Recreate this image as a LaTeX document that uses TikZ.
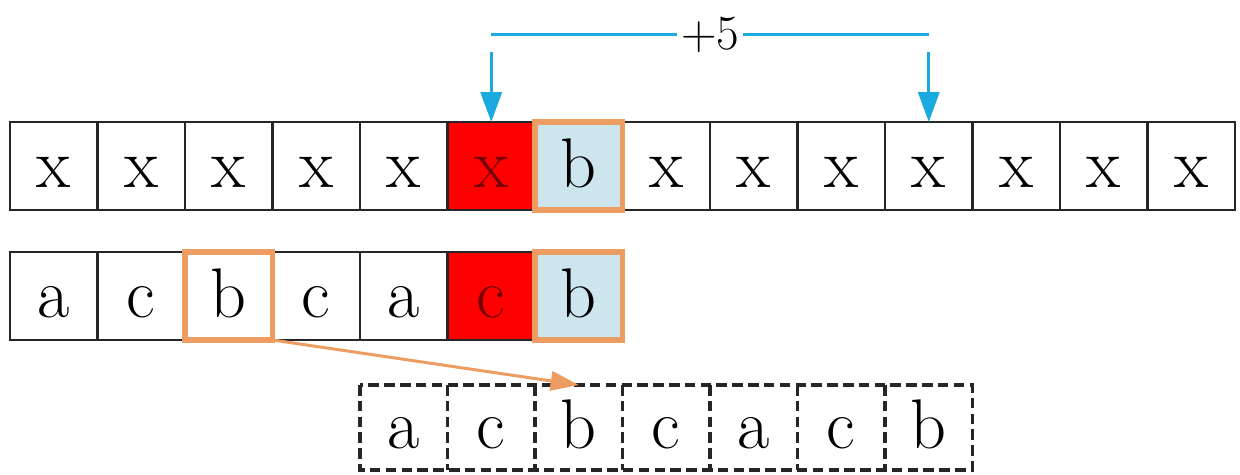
\documentclass[tikz,border=0pt]{standalone}
\usepackage{xcolor}
\usepackage{tikz}
\usetikzlibrary{arrows.meta,positioning}

\definecolor{hitred}{RGB}{255,0,0}
\definecolor{matchblue}{RGB}{205,229,237}
\definecolor{frameorange}{RGB}{238,157,98}
\definecolor{jumpcyan}{RGB}{27,170,224}

\begin{document}
\begin{tikzpicture}[
    node distance=0pt,
    cell/.style={
      rectangle, draw=black!85, line width=1.3pt, fill=white,
      minimum width=1.75cm, minimum height=1.76cm,
      inner sep=0pt, outer sep=0pt,
      text height=24pt, text depth=0pt,
      font=\fontsize{40}{44}\selectfont,
    },
    redcell/.style={cell, fill=hitred, text=red!45!black},
    bluecell/.style={cell, fill=matchblue},
    dashcell/.style={cell, draw=none, fill=none, minimum height=1.7cm},
    dashline/.style={draw=black!85, line width=2pt, dash pattern=on 6pt off 3pt},
    frame/.style={draw=frameorange, line width=3pt},
    jump/.style={-{Triangle[length=17pt, width=12pt]}, draw=jumpcyan, line width=1.7pt},
    span/.style={draw=jumpcyan, line width=1.7pt},
    copyarr/.style={-{Triangle[length=16pt, width=11pt]}, draw=frameorange, line width=1.7pt},
  ]

  \useasboundingbox (0,0) rectangle (24.8,9.5);

  % Top row: text
  \node[cell] (t0) at (1.075,6.18) {x};
  \node[cell, right=of t0] (t1) {x};
  \node[cell, right=of t1] (t2) {x};
  \node[cell, right=of t2] (t3) {x};
  \node[cell, right=of t3] (t4) {x};
  \node[redcell, right=of t4] (t5) {x};
  \node[bluecell, right=of t5] (t6) {b};
  \node[cell, right=of t6] (t7) {x};
  \node[cell, right=of t7] (t8) {x};
  \node[cell, right=of t8] (t9) {x};
  \node[cell, right=of t9] (t10) {x};
  \node[cell, right=of t10] (t11) {x};
  \node[cell, right=of t11] (t12) {x};
  \node[cell, right=of t12] (t13) {x};
  \draw[frame] (t6.south west) rectangle (t6.north east);

  % Middle row: pattern
  \node[cell, below=0.84cm of t0] (r0) {a};
  \node[cell, right=of r0] (r1) {c};
  \node[cell, right=of r1] (r2) {b};
  \node[cell, right=of r2] (r3) {c};
  \node[cell, right=of r3] (r4) {a};
  \node[redcell, right=of r4] (r5) {c};
  \node[bluecell, right=of r5] (r6) {b};
  \draw[frame] (r2.south west) rectangle (r2.north east);
  \draw[frame] (r6.south west) rectangle (r6.north east);

  % Bottom row: shifted pattern
  \node[dashcell, below=0.9cm of r4] (d0) {a};
  \node[dashcell, right=of d0] (d1) {c};
  \node[dashcell, right=of d1] (d2) {b};
  \node[dashcell, right=of d2] (d3) {c};
  \node[dashcell, right=of d3] (d4) {a};
  \node[dashcell, right=of d4] (d5) {c};
  \node[dashcell, right=of d5] (d6) {b};
  \draw[dashline] (d0.north west) rectangle (d6.south east);
  \foreach \i in {1,...,6}
    \draw[dashline] (d\i.north west) -- (d\i.south west);

  % Jump of +5
  \coordinate[above=1.74cm of t5.north] (s0);
  \coordinate[above=1.74cm of t10.north] (s1);
  \coordinate[above=1.4cm of t5.north] (a0);
  \coordinate[above=1.4cm of t10.north] (a1);
  \draw[span] (s0) -- node[fill=white, inner sep=2pt, font=\fontsize{28}{30}\selectfont] (shift) {+5} (s1);
  \draw[jump] (a0) -- (t5.north);
  \draw[jump] (a1) -- (t10.north);

  % Shift of the pattern
  \draw[copyarr] (r2.south east) -- (d2.north);

\end{tikzpicture}
\end{document}
